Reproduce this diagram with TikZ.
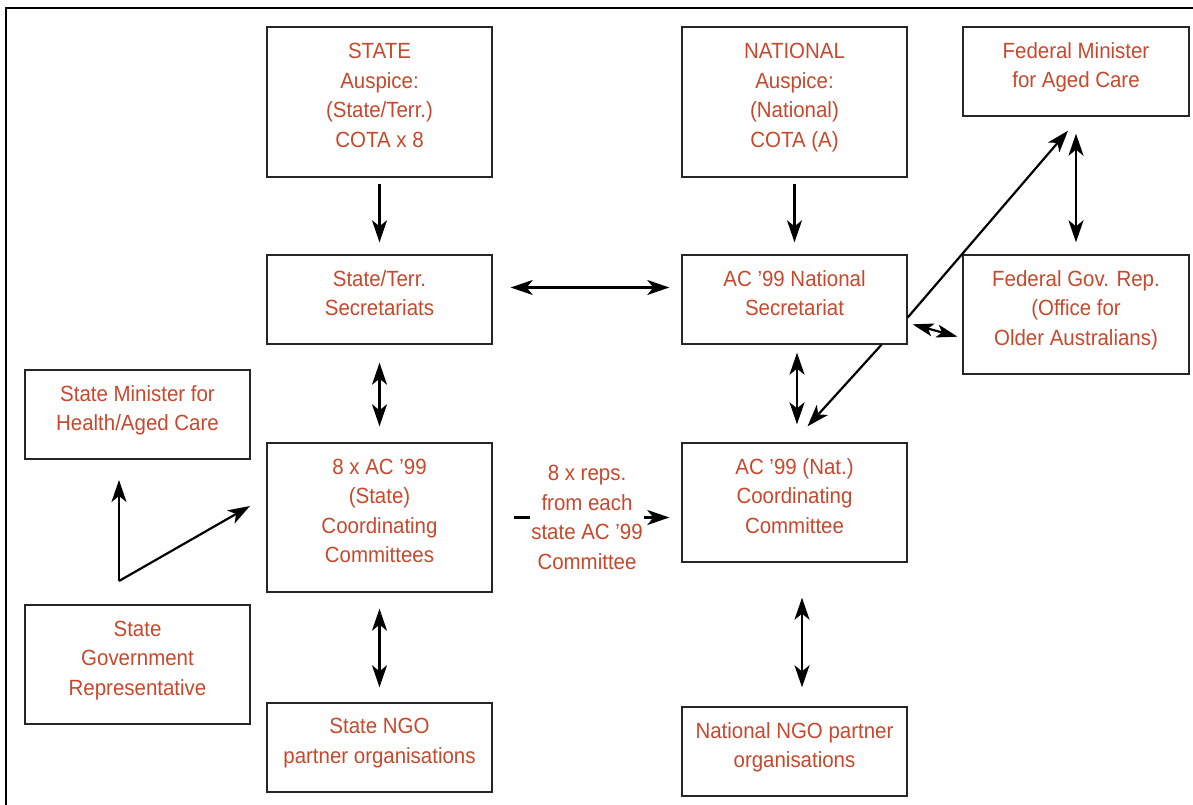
\documentclass[tikz,border=0pt]{standalone}
\usepackage{fontspec}
\setmainfont{Liberation Sans}[FakeStretch=0.93]
\usetikzlibrary{arrows.meta,calc,positioning}
\definecolor{cotared}{RGB}{199,72,44}

\begin{document}
\begin{tikzpicture}[
    x=1pt, y=-1pt,
    box/.style={rectangle, draw=black!85, line width=1.4pt, text=cotared, align=center, minimum width=225pt, text depth=13pt, font=\fontsize{22}{29.5}\selectfont},
    lbl/.style={text=cotared, align=center, fill=white, inner sep=1pt, font=\fontsize{22}{29.5}\selectfont},
    arrow/.style={line width=2.2pt, -{Stealth[length=22pt,width=15pt,inset=6pt]}},
    dblarrow/.style={line width=2.2pt, {Stealth[length=22pt,width=15pt,inset=6pt]}-{Stealth[length=22pt,width=15pt,inset=6pt]}},
    tinyarrow/.style={line width=2.2pt, {Stealth[length=21pt,width=13pt,inset=5pt]}-{Stealth[length=21pt,width=13pt,inset=5pt]}}
]
    \useasboundingbox (0,0) rectangle (1193,805);

    % Outer frame
    \draw [line width=1.6pt] (6,815) -- (6,8) -- (1200,8);

    % Auspice boxes
    \node [box, minimum height=150pt] (state) at (379.5,102) {STATE\\Auspice:\\(State/Terr.)\\COTA x 8};
    \node [box, minimum height=150pt] (national) at (794.5,102) {NATIONAL\\Auspice:\\(National)\\COTA (A)};
    \node [box, minimum width=226pt, minimum height=89pt] (fedmin) at (1076,71.5) {Federal Minister\\for Aged Care};

    % Secretariats
    \node [box, minimum height=89pt] (sec) at (379.5,299.5) {State/Terr.\\Secretariats};
    \node [box, minimum height=89pt] (natsec) at (794.5,299.5) {AC ’99 National\\Secretariat};
    \node [box, minimum width=226pt, minimum height=119pt] (fedrep) at (1076,314.5) {Federal Gov. Rep.\\(Office for\\Older Australians)};

    % Coordinating committees
    \node [box, minimum height=89pt] (statemin) at (137.5,414.5) {State Minister for\\Health/Aged Care};
    \node [box, minimum height=149pt] (acstate) at (379.5,517.5) {8 x AC ’99\\(State)\\Coordinating\\Committees};
    \node [box, minimum height=119pt] (natcoord) at (794.5,502.5) {AC ’99 (Nat.)\\Coordinating\\Committee};
    \node [box, minimum height=119pt] (stategov) at (137.5,664.5) {State\\Government\\Representative};

    % NGO partners
    \node [box, minimum height=89pt] (statengo) at (379.5,747.5) {State NGO\\partner organisations};
    \node [box, minimum height=89pt] (natngo) at (794.5,751.5) {National NGO partner\\organisations};

    % Free ends near the state government representative
    \coordinate (govcorner) at (119,581);
    \coordinate (govup) at (119,480);
    \coordinate (govright) at (250,506);

    % Auspice arrows
    \draw [arrow, shorten <=6pt, shorten >=12pt] (state) -- (sec);
    \draw [arrow, shorten <=6pt, shorten >=12pt] (national) -- (natsec);
    \draw [dblarrow, shorten <=17pt, shorten >=12pt] (fedmin) -- (fedrep);

    % Secretariat links
    \draw [dblarrow, shorten <=18pt, shorten >=12pt] ([yshift=12pt]sec.east) -- ([yshift=12pt]natsec.west);
    \draw [tinyarrow, shorten <=5pt, shorten >=5pt] ([yshift=-23.5pt]natsec.east) -- ([yshift=-23.5pt]fedrep.west);
    \draw [arrow] ($(natsec.east)+(0,18)$) -- ($(fedmin.south)+(-8,14)$);
    \draw [arrow] ($(natsec.south)+(87,0)$) -- ($(natcoord.north)+(13,-16)$);

    % Down to the committees
    \draw [dblarrow, shorten <=18pt, shorten >=16pt] (sec) -- (acstate);
    \draw [dblarrow, shorten <=8pt, shorten >=18pt] ([xshift=2.5pt]natsec.south) -- ([xshift=2.5pt]natcoord.north);
    \draw [arrow, shorten <=21pt, shorten >=12pt] (acstate.east) -- node [lbl] {8 x reps.\\from each\\state AC ’99\\Committee} (acstate.east -| natcoord.west);

    % Down to the NGO partners
    \draw [dblarrow, shorten <=16pt, shorten >=15pt] (acstate) -- (statengo);
    \draw [dblarrow, shorten <=35pt, shorten >=19pt] ([xshift=7.5pt]natcoord.south) -- ([xshift=7.5pt]natngo.north);

    % State government representative
    \draw [arrow] (govcorner) -- (govup);
    \draw [arrow] (govcorner) -- (govright);
\end{tikzpicture}
\end{document}
